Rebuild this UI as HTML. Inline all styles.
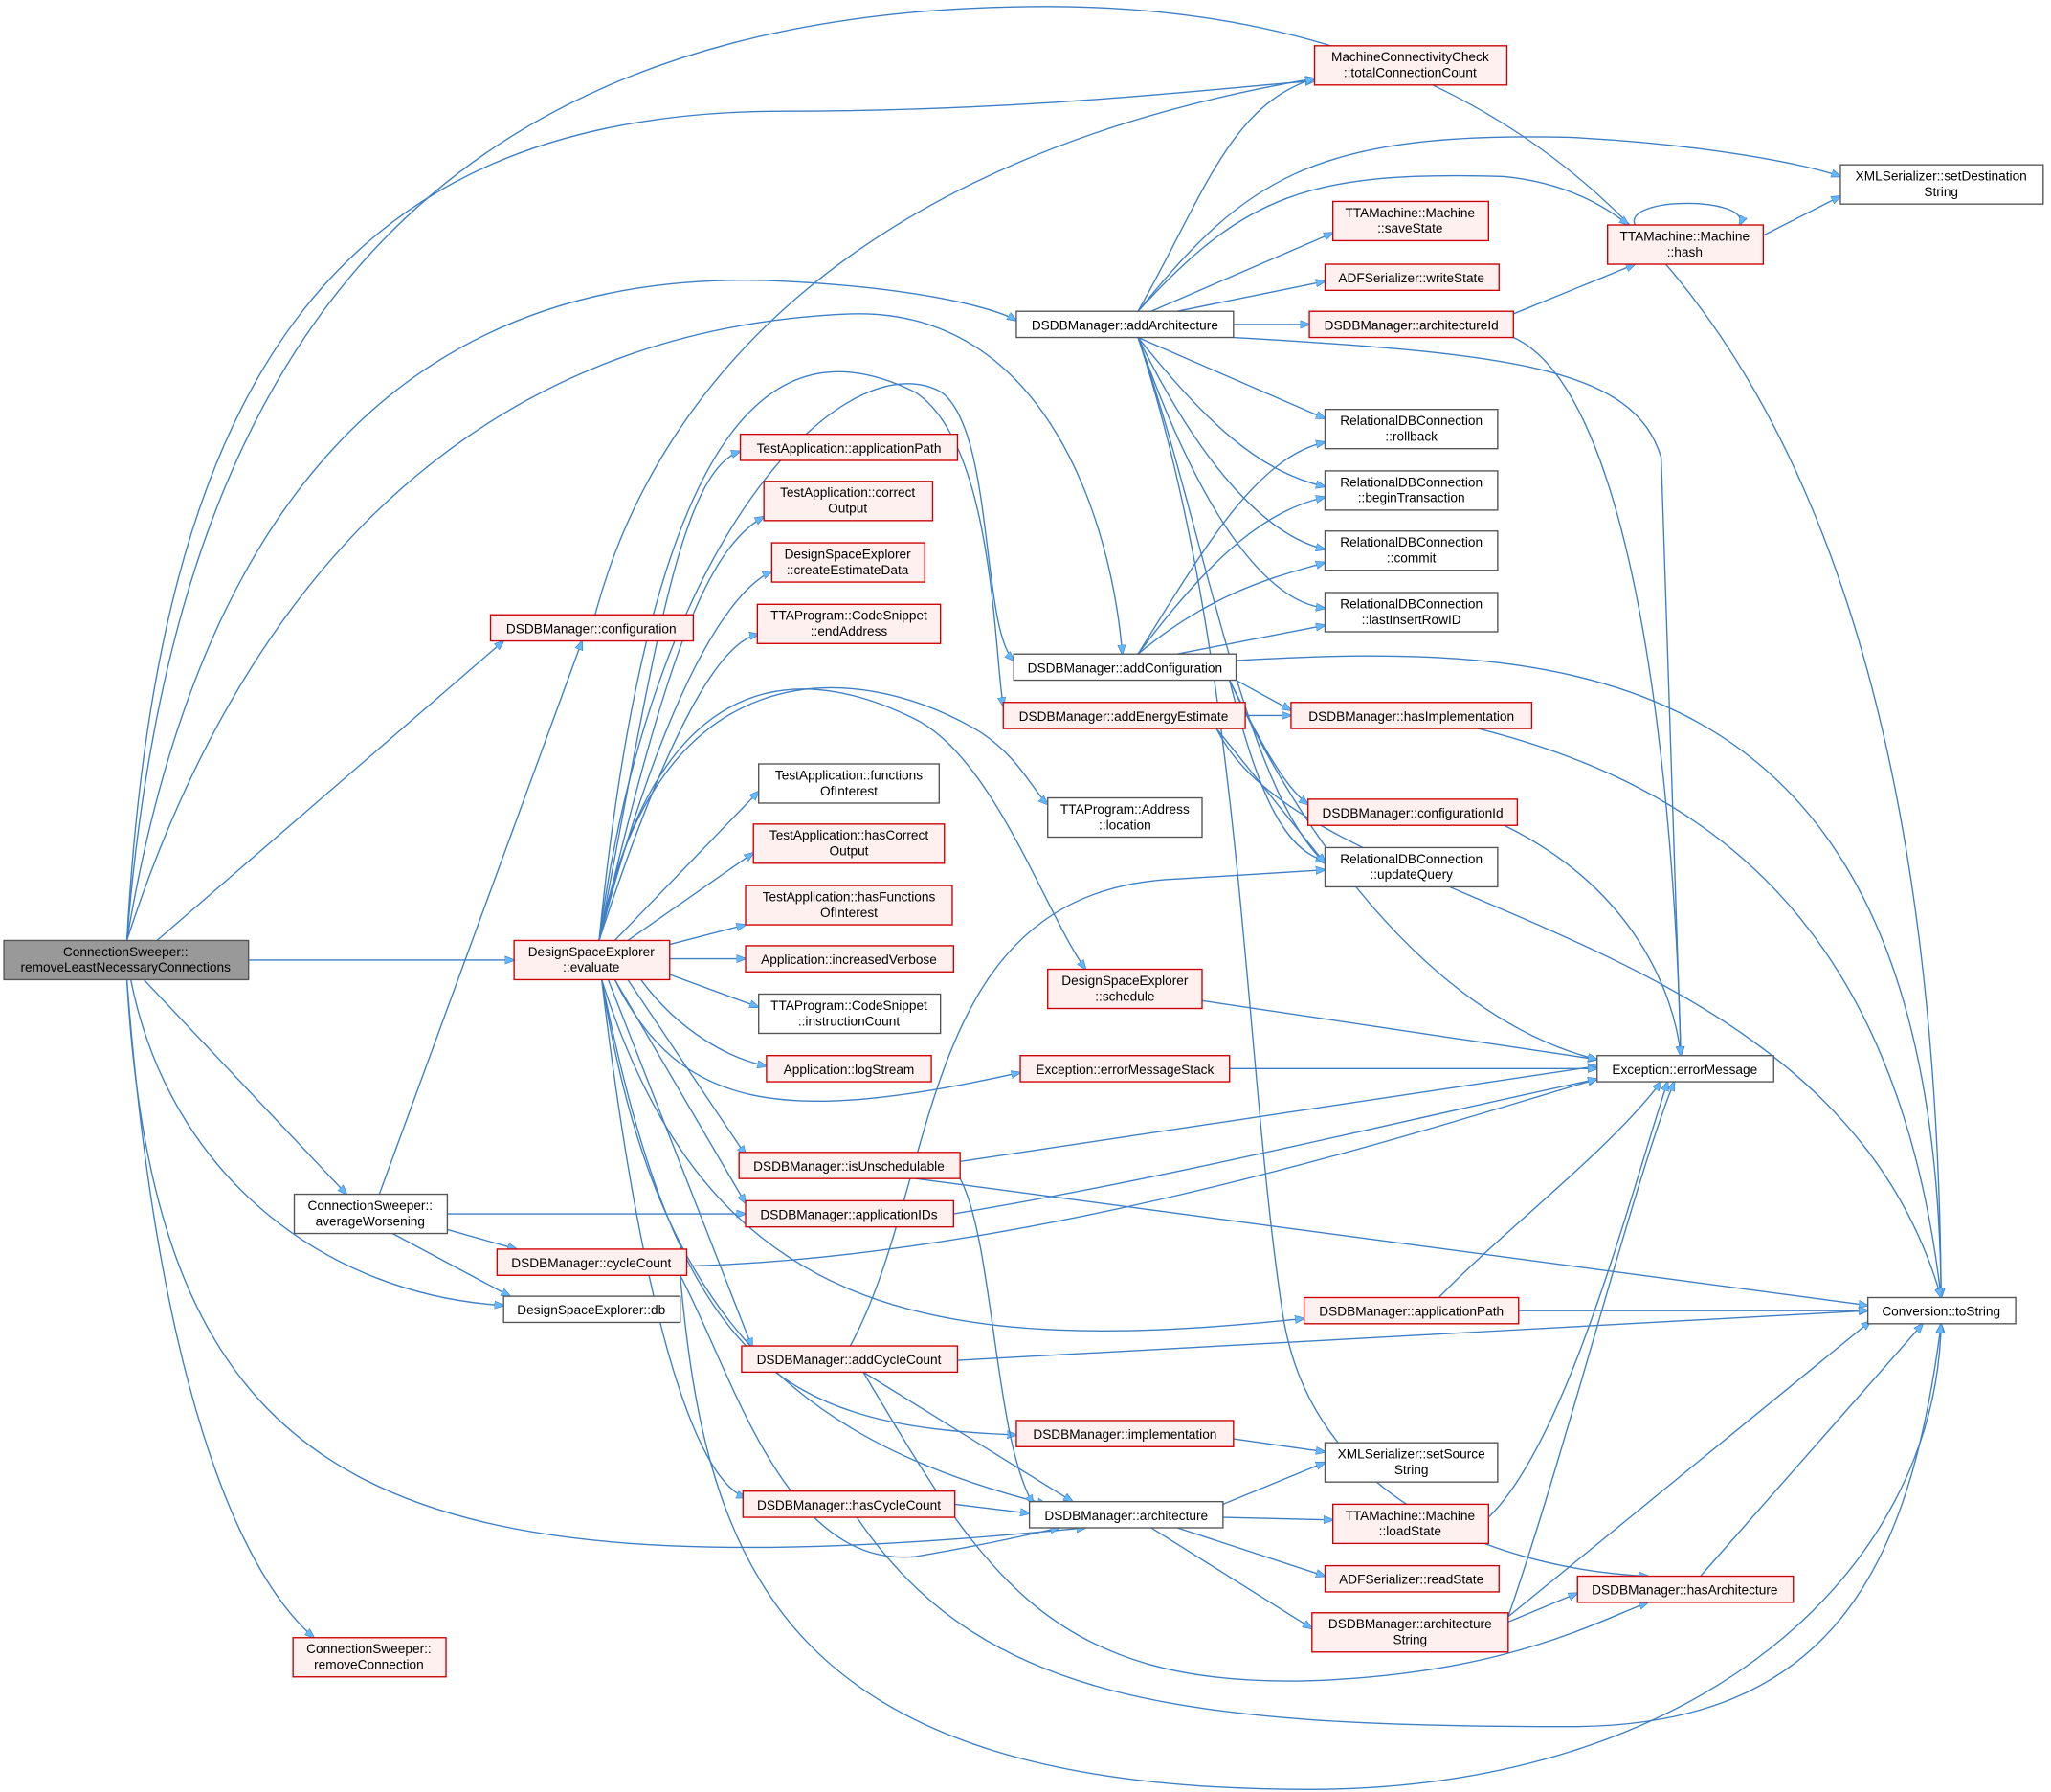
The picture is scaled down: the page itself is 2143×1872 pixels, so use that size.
<!DOCTYPE html>
<html><head><meta charset="utf-8"><style>
html,body{margin:0;padding:0;background:#fff}
svg{display:block}
text{font-family:"Liberation Sans",sans-serif;font-size:10px;fill:#000}
.e{fill:none;stroke:#3f7fc4;stroke-width:1;marker-end:url(#a)}
.r{fill:#fff0f0;stroke:#cc0000;stroke-width:1}
.b{fill:#fff;stroke:#555;stroke-width:1}
.g{fill:#999;stroke:#555;stroke-width:1}
</style></head><body>
<svg width="2143" height="1872" viewBox="0 0 1568 1370" preserveAspectRatio="none" xmlns="http://www.w3.org/2000/svg">
<defs><marker id="a" markerWidth="8" markerHeight="8" refX="7" refY="4" orient="auto" markerUnits="userSpaceOnUse"><path d="M0,1 L8,4 L0,7 z" fill="#63b8ff" stroke="#3f7fc4" stroke-width="0.5"/></marker></defs>
<g>
<path class="e" d="M97,719 C120,300 250,85 600,85 C800,85 950,65 1005,62"/>
<path class="e" d="M97,719 C130,300 300,5 800,5 C1300,5 1480,400 1484,992"/>
<path class="e" d="M97,719 C150,400 300,200 600,215 C700,220 760,235 777,245"/>
<path class="e" d="M97,719 C200,400 400,250 650,240 C800,235 850,400 858,500"/>
<path class="e" d="M120,719 L385,490"/>
<path class="e" d="M190,734 L393,734"/>
<path class="e" d="M110,749 L265,913"/>
<path class="e" d="M100,749 C130,900 250,990 385,998"/>
<path class="e" d="M97,749 C120,1150 300,1220 830,1168"/>
<path class="e" d="M97,749 C120,1050 180,1200 240,1252"/>
<path class="e" d="M290,913 L445,490"/>
<path class="e" d="M342,928 L570,928"/>
<path class="e" d="M342,940 L395,955"/>
<path class="e" d="M300,943 L390,991"/>
<path class="e" d="M458,719 C500,500 520,360 566,345"/>
<path class="e" d="M458,719 C510,500 540,420 584,395"/>
<path class="e" d="M458,719 C510,520 560,450 590,437"/>
<path class="e" d="M458,719 C510,560 550,490 580,485"/>
<path class="e" d="M470,719 L580,605"/>
<path class="e" d="M480,719 L576,652"/>
<path class="e" d="M512,722 L570,707"/>
<path class="e" d="M512,733 L570,733"/>
<path class="e" d="M512,745 L580,770"/>
<path class="e" d="M490,749 C520,790 560,810 586,815"/>
<path class="e" d="M470,749 C520,850 600,860 780,820"/>
<path class="e" d="M480,749 L570,883"/>
<path class="e" d="M470,749 L570,920"/>
<path class="e" d="M465,749 L575,1030"/>
<path class="e" d="M460,749 C490,1000 530,1130 570,1145"/>
<path class="e" d="M460,749 C520,1050 600,1090 777,1097"/>
<path class="e" d="M460,749 C500,1000 600,1100 800,1150"/>
<path class="e" d="M460,749 C540,1000 700,1040 997,1008"/>
<path class="e" d="M458,719 C500,520 600,500 700,550 C760,580 800,700 830,741"/>
<path class="e" d="M458,719 C500,500 650,500 750,560 C780,580 790,605 801,615"/>
<path class="e" d="M458,719 C500,300 600,250 700,300 C760,340 760,500 767,540"/>
<path class="e" d="M458,719 C500,400 650,260 720,300 C760,330 750,480 775,505"/>
<path class="e" d="M455,470 C500,300 650,120 1005,60"/>
<path class="e" d="M525,968 C800,960 1100,860 1221,825"/>
<path class="e" d="M520,975 C560,1050 600,1200 700,1190 C760,1180 800,1170 810,1168"/>
<path class="e" d="M520,975 C540,1200 600,1368 1000,1368 C1300,1368 1480,1200 1484,1012"/>
<path class="e" d="M732,1040 L1428,1002"/>
<path class="e" d="M660,1049 L820,1148"/>
<path class="e" d="M650,1029 C720,900 700,680 900,672 L1013,665"/>
<path class="e" d="M660,1049 C750,1200 800,1290 1000,1285 C1150,1280 1220,1240 1260,1225"/>
<path class="e" d="M730,1150 L787,1157"/>
<path class="e" d="M655,1160 C750,1300 900,1320 1200,1320 C1400,1320 1460,1200 1484,1012"/>
<path class="e" d="M734,888 L1221,815"/>
<path class="e" d="M700,901 L1428,998"/>
<path class="e" d="M734,901 C760,950 760,1100 790,1150"/>
<path class="e" d="M729,928 C900,900 1100,850 1221,825"/>
<path class="e" d="M935,1150 L1013,1118"/>
<path class="e" d="M935,1160 L1019,1162"/>
<path class="e" d="M900,1168 L1013,1205"/>
<path class="e" d="M880,1168 L1003,1245"/>
<path class="e" d="M1153,1240 L1206,1218"/>
<path class="e" d="M1153,1236 L1430,1010"/>
<path class="e" d="M1153,1236 C1200,1100 1250,900 1280,827"/>
<path class="e" d="M1138,1160 C1200,1100 1250,900 1275,827"/>
<path class="e" d="M1300,1205 L1470,1012"/>
<path class="e" d="M1161,1002 L1428,1002"/>
<path class="e" d="M1100,992 C1150,940 1230,880 1270,827"/>
<path class="e" d="M940,817 L1221,817"/>
<path class="e" d="M919,765 L1221,810"/>
<path class="e" d="M943,1100 L1013,1110"/>
<path class="e" d="M870,238 C920,150 940,80 1005,60"/>
<path class="e" d="M870,238 C950,140 1000,100 1200,105 C1300,110 1380,125 1407,135"/>
<path class="e" d="M870,238 C950,150 1000,130 1150,135 C1200,140 1230,160 1245,172"/>
<path class="e" d="M880,238 L1019,178"/>
<path class="e" d="M900,238 L1013,215"/>
<path class="e" d="M943,248 L1001,248"/>
<path class="e" d="M870,258 L1013,320"/>
<path class="e" d="M870,258 C920,320 960,360 1013,372"/>
<path class="e" d="M870,258 C920,360 970,410 1013,420"/>
<path class="e" d="M870,258 C920,400 970,460 1013,465"/>
<path class="e" d="M943,258 C1150,270 1250,280 1270,350 L1285,807"/>
<path class="e" d="M870,258 C920,400 950,600 1013,660"/>
<path class="e" d="M870,258 C950,500 950,800 980,1000 C1000,1150 1150,1200 1260,1205"/>
<path class="e" d="M1157,240 L1250,202"/>
<path class="e" d="M1157,258 C1250,300 1280,600 1285,807"/>
<path class="e" d="M1348,180 L1407,150"/>
<path class="e" d="M1250,172 C1240,150 1340,150 1330,172"/>
<path class="e" d="M1130,557 C1300,600 1450,700 1484,992"/>
<path class="e" d="M870,500 C920,420 960,350 1013,338"/>
<path class="e" d="M870,500 C930,420 970,390 1013,380"/>
<path class="e" d="M870,500 C930,450 980,440 1013,430"/>
<path class="e" d="M900,500 L1013,478"/>
<path class="e" d="M945,505 C1200,490 1480,500 1484,992"/>
<path class="e" d="M945,520 L987,543"/>
<path class="e" d="M940,520 C960,560 980,600 1000,615"/>
<path class="e" d="M940,520 C960,600 980,650 1013,658"/>
<path class="e" d="M940,520 C1000,650 1100,780 1221,810"/>
<path class="e" d="M952,547 L987,547"/>
<path class="e" d="M930,557 L1013,660"/>
<path class="e" d="M930,557 C1000,700 1400,700 1484,992"/>
<path class="e" d="M1150,631 C1250,680 1280,760 1285,807"/>
</g>
<g text-anchor="middle">
<rect class="g" x="3" y="719" width="187" height="30"/><text x="96" y="731">ConnectionSweeper::</text><text x="96" y="743">removeLeastNecessaryConnections</text>
<rect class="r" x="375" y="470" width="155" height="20"/><text x="452" y="484">DSDBManager::configuration</text>
<rect class="r" x="393" y="719" width="119" height="30"/><text x="452" y="731">DesignSpaceExplorer</text><text x="452" y="743">::evaluate</text>
<rect class="b" x="225" y="913" width="117" height="30"/><text x="283" y="925">ConnectionSweeper::</text><text x="283" y="937">averageWorsening</text>
<rect class="r" x="380" y="955" width="145" height="20"/><text x="452" y="969">DSDBManager::cycleCount</text>
<rect class="b" x="385" y="991" width="135" height="20"/><text x="452" y="1005">DesignSpaceExplorer::db</text>
<rect class="r" x="224" y="1252" width="117" height="30"/><text x="282" y="1264">ConnectionSweeper::</text><text x="282" y="1276">removeConnection</text>
<rect class="r" x="566" y="332" width="166" height="20"/><text x="649" y="346">TestApplication::applicationPath</text>
<rect class="r" x="584" y="368" width="129" height="30"/><text x="648" y="380">TestApplication::correct</text><text x="648" y="392">Output</text>
<rect class="r" x="590" y="415" width="117" height="30"/><text x="648" y="427">DesignSpaceExplorer</text><text x="648" y="439">::createEstimateData</text>
<rect class="r" x="579" y="462" width="140" height="30"/><text x="649" y="474">TTAProgram::CodeSnippet</text><text x="649" y="486">::endAddress</text>
<rect class="b" x="580" y="584" width="138" height="30"/><text x="649" y="596">TestApplication::functions</text><text x="649" y="608">OfInterest</text>
<rect class="r" x="576" y="630" width="146" height="30"/><text x="649" y="642">TestApplication::hasCorrect</text><text x="649" y="654">Output</text>
<rect class="r" x="570" y="677" width="158" height="30"/><text x="649" y="689">TestApplication::hasFunctions</text><text x="649" y="701">OfInterest</text>
<rect class="r" x="570" y="723" width="159" height="20"/><text x="649" y="737">Application::increasedVerbose</text>
<rect class="b" x="580" y="760" width="139" height="30"/><text x="649" y="772">TTAProgram::CodeSnippet</text><text x="649" y="784">::instructionCount</text>
<rect class="r" x="586" y="807" width="126" height="20"/><text x="649" y="821">Application::logStream</text>
<rect class="r" x="565" y="881" width="169" height="20"/><text x="649" y="895">DSDBManager::isUnschedulable</text>
<rect class="r" x="570" y="918" width="159" height="20"/><text x="649" y="932">DSDBManager::applicationIDs</text>
<rect class="r" x="567" y="1029" width="165" height="20"/><text x="649" y="1043">DSDBManager::addCycleCount</text>
<rect class="r" x="568" y="1140" width="162" height="20"/><text x="649" y="1154">DSDBManager::hasCycleCount</text>
<rect class="b" x="777" y="238" width="166" height="20"/><text x="860" y="252">DSDBManager::addArchitecture</text>
<rect class="b" x="775" y="500" width="170" height="20"/><text x="860" y="514">DSDBManager::addConfiguration</text>
<rect class="r" x="767" y="537" width="185" height="20"/><text x="859" y="551">DSDBManager::addEnergyEstimate</text>
<rect class="b" x="801" y="610" width="118" height="30"/><text x="860" y="622">TTAProgram::Address</text><text x="860" y="634">::location</text>
<rect class="r" x="801" y="741" width="118" height="30"/><text x="860" y="753">DesignSpaceExplorer</text><text x="860" y="765">::schedule</text>
<rect class="r" x="780" y="807" width="160" height="20"/><text x="860" y="821">Exception::errorMessageStack</text>
<rect class="r" x="777" y="1086" width="166" height="20"/><text x="860" y="1100">DSDBManager::implementation</text>
<rect class="b" x="787" y="1148" width="148" height="20"/><text x="861" y="1162">DSDBManager::architecture</text>
<rect class="r" x="1005" y="35" width="147" height="30"/><text x="1078" y="47">MachineConnectivityCheck</text><text x="1078" y="59">::totalConnectionCount</text>
<rect class="r" x="1019" y="154" width="119" height="30"/><text x="1078" y="166">TTAMachine::Machine</text><text x="1078" y="178">::saveState</text>
<rect class="r" x="1013" y="202" width="133" height="20"/><text x="1079" y="216">ADFSerializer::writeState</text>
<rect class="r" x="1001" y="238" width="156" height="20"/><text x="1079" y="252">DSDBManager::architectureId</text>
<rect class="b" x="1013" y="313" width="132" height="30"/><text x="1079" y="325">RelationalDBConnection</text><text x="1079" y="337">::rollback</text>
<rect class="b" x="1013" y="360" width="132" height="30"/><text x="1079" y="372">RelationalDBConnection</text><text x="1079" y="384">::beginTransaction</text>
<rect class="b" x="1013" y="406" width="132" height="30"/><text x="1079" y="418">RelationalDBConnection</text><text x="1079" y="430">::commit</text>
<rect class="b" x="1013" y="453" width="132" height="30"/><text x="1079" y="465">RelationalDBConnection</text><text x="1079" y="477">::lastInsertRowID</text>
<rect class="r" x="987" y="537" width="184" height="20"/><text x="1079" y="551">DSDBManager::hasImplementation</text>
<rect class="r" x="1000" y="611" width="160" height="20"/><text x="1080" y="625">DSDBManager::configurationId</text>
<rect class="b" x="1013" y="648" width="132" height="30"/><text x="1079" y="660">RelationalDBConnection</text><text x="1079" y="672">::updateQuery</text>
<rect class="r" x="997" y="992" width="164" height="20"/><text x="1079" y="1006">DSDBManager::applicationPath</text>
<rect class="b" x="1013" y="1103" width="132" height="30"/><text x="1079" y="1115">XMLSerializer::setSource</text><text x="1079" y="1127">String</text>
<rect class="r" x="1019" y="1150" width="119" height="30"/><text x="1078" y="1162">TTAMachine::Machine</text><text x="1078" y="1174">::loadState</text>
<rect class="r" x="1013" y="1197" width="133" height="20"/><text x="1079" y="1211">ADFSerializer::readState</text>
<rect class="r" x="1003" y="1233" width="150" height="30"/><text x="1078" y="1245">DSDBManager::architecture</text><text x="1078" y="1257">String</text>
<rect class="r" x="1229" y="172" width="119" height="30"/><text x="1288" y="184">TTAMachine::Machine</text><text x="1288" y="196">::hash</text>
<rect class="b" x="1221" y="807" width="135" height="20"/><text x="1288" y="821">Exception::errorMessage</text>
<rect class="r" x="1206" y="1205" width="165" height="20"/><text x="1288" y="1219">DSDBManager::hasArchitecture</text>
<rect class="b" x="1407" y="126" width="155" height="30"/><text x="1484" y="138">XMLSerializer::setDestination</text><text x="1484" y="150">String</text>
<rect class="b" x="1428" y="992" width="113" height="20"/><text x="1484" y="1006">Conversion::toString</text>
</g>
</svg>
</body></html>
